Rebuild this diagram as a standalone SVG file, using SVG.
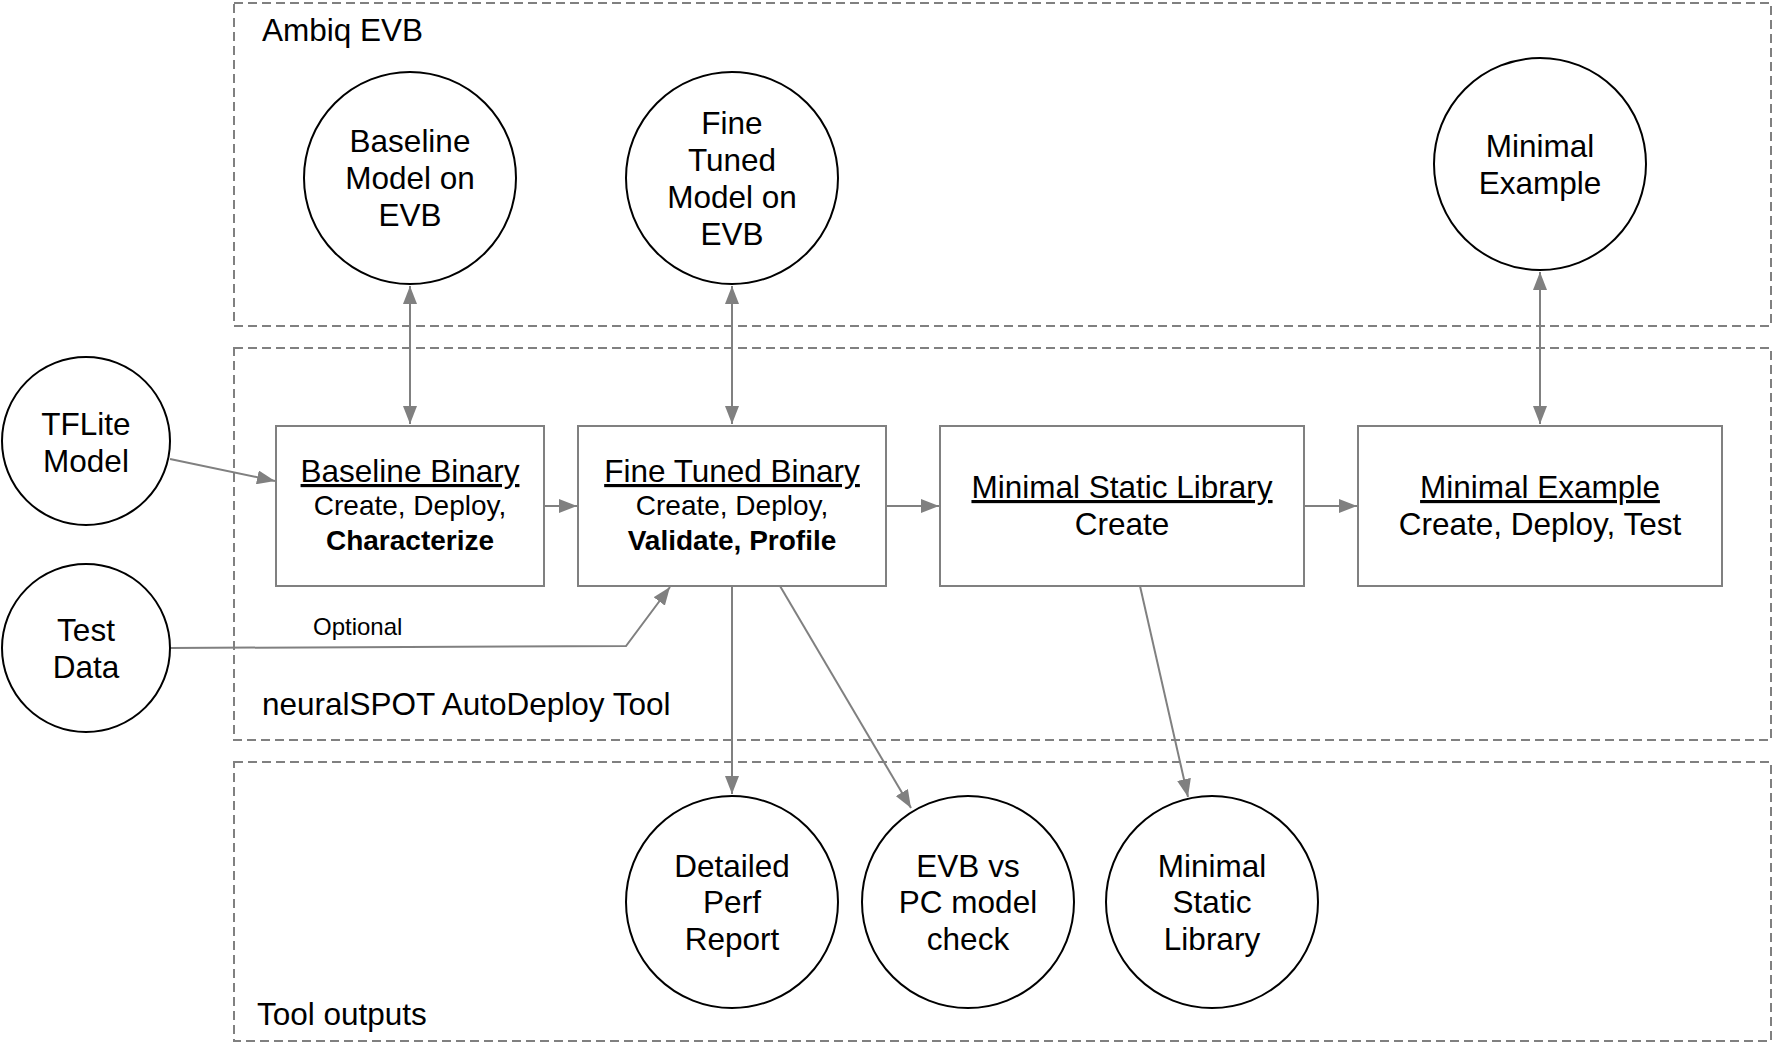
<svg xmlns="http://www.w3.org/2000/svg" width="1774" height="1044" viewBox="0 0 1774 1044">
<style>
  text { font-family: "Liberation Sans", Arial, Helvetica, sans-serif; fill: #000; }
  .big { font-size: 31.5px; }
  .mid { font-size: 28px; }
  .small { font-size: 24px; }
  .c { text-anchor: middle; }
  .u { text-decoration: underline; }
  .b { font-weight: bold; }
  .container { fill: none; stroke: #808080; stroke-width: 2; stroke-dasharray: 9 5; }
  .circle { fill: #fff; stroke: #000; stroke-width: 2; }
  .box { fill: #fff; stroke: #808080; stroke-width: 2; }
  .conn { fill: none; stroke: #808080; stroke-width: 2; }
  .arr { marker-end: url(#ah); }
  .both { marker-start: url(#ah); marker-end: url(#ah); }
</style>
<defs>
  <marker id="ah" viewBox="0 0 18 14" refX="18" refY="7" markerWidth="18" markerHeight="14" markerUnits="userSpaceOnUse" orient="auto-start-reverse">
    <path d="M0,0 L18,7 L0,14 z" fill="#808080"/>
  </marker>
</defs>
<rect width="1774" height="1044" fill="#fff"/>

<g id="container-ambiq">
  <rect class="container" x="234" y="3" width="1537" height="323"/>
  <text class="big" x="262" y="41">Ambiq EVB</text>
</g>
<g id="container-neuralspot">
  <rect class="container" x="234" y="348" width="1537" height="392"/>
  <text class="big" x="262" y="715">neuralSPOT AutoDeploy Tool</text>
</g>
<g id="container-outputs">
  <rect class="container" x="234" y="762" width="1537" height="279"/>
  <text class="big" x="257" y="1025">Tool outputs</text>
</g>

<g id="connectors">
  <line class="conn both" x1="410" y1="286" x2="410" y2="424"/>
  <line class="conn both" x1="732" y1="286" x2="732" y2="424"/>
  <line class="conn both" x1="1540" y1="272" x2="1540" y2="424"/>
  <line class="conn arr" x1="170" y1="459" x2="275" y2="481"/>
  <line class="conn arr" x1="544" y1="506" x2="577" y2="506"/>
  <line class="conn arr" x1="886" y1="506" x2="939" y2="506"/>
  <line class="conn arr" x1="1304" y1="506" x2="1357" y2="506"/>
  <path class="conn arr" d="M170,648 L626,646 L670,587"/>
  <text class="small" x="313" y="635">Optional</text>
  <line class="conn arr" x1="732" y1="586" x2="732" y2="794"/>
  <line class="conn arr" x1="780" y1="586" x2="911" y2="808"/>
  <line class="conn arr" x1="1140" y1="586" x2="1188" y2="797"/>
</g>

<g id="baseline-model-evb">
  <circle class="circle" cx="410" cy="178" r="106"/>
  <text class="big c" x="410" y="152">Baseline</text>
  <text class="big c" x="410" y="189">Model on</text>
  <text class="big c" x="410" y="226">EVB</text>
</g>
<g id="finetuned-model-evb">
  <circle class="circle" cx="732" cy="178" r="106"/>
  <text class="big c" x="732" y="134">Fine</text>
  <text class="big c" x="732" y="171">Tuned</text>
  <text class="big c" x="732" y="208">Model on</text>
  <text class="big c" x="732" y="245">EVB</text>
</g>
<g id="minimal-example-evb">
  <circle class="circle" cx="1540" cy="164" r="106"/>
  <text class="big c" x="1540" y="157">Minimal</text>
  <text class="big c" x="1540" y="194">Example</text>
</g>
<g id="tflite-model">
  <circle class="circle" cx="86" cy="441" r="84"/>
  <text class="big c" x="86" y="435">TFLite</text>
  <text class="big c" x="86" y="472">Model</text>
</g>
<g id="test-data">
  <circle class="circle" cx="86" cy="648" r="84"/>
  <text class="big c" x="86" y="641">Test</text>
  <text class="big c" x="86" y="678">Data</text>
</g>

<g id="baseline-binary">
  <rect class="box" x="276" y="426" width="268" height="160"/>
  <text class="big c u" x="410" y="482">Baseline Binary</text>
  <text class="mid c" x="410" y="515">Create, Deploy,</text>
  <text class="mid c b" x="410" y="550">Characterize</text>
</g>
<g id="finetuned-binary">
  <rect class="box" x="578" y="426" width="308" height="160"/>
  <text class="big c u" x="732" y="482">Fine Tuned Binary</text>
  <text class="mid c" x="732" y="515">Create, Deploy,</text>
  <text class="mid c b" x="732" y="550">Validate, Profile</text>
</g>
<g id="minimal-static-library-box">
  <rect class="box" x="940" y="426" width="364" height="160"/>
  <text class="big c u" x="1122" y="498">Minimal Static Library</text>
  <text class="big c" x="1122" y="535">Create</text>
</g>
<g id="minimal-example-box">
  <rect class="box" x="1358" y="426" width="364" height="160"/>
  <text class="big c u" x="1540" y="498">Minimal Example</text>
  <text class="big c" x="1540" y="535">Create, Deploy, Test</text>
</g>

<g id="detailed-perf-report">
  <circle class="circle" cx="732" cy="902" r="106"/>
  <text class="big c" x="732" y="877">Detailed</text>
  <text class="big c" x="732" y="913">Perf</text>
  <text class="big c" x="732" y="950">Report</text>
</g>
<g id="evb-vs-pc">
  <circle class="circle" cx="968" cy="902" r="106"/>
  <text class="big c" x="968" y="877">EVB vs</text>
  <text class="big c" x="968" y="913">PC model</text>
  <text class="big c" x="968" y="950">check</text>
</g>
<g id="minimal-static-library">
  <circle class="circle" cx="1212" cy="902" r="106"/>
  <text class="big c" x="1212" y="877">Minimal</text>
  <text class="big c" x="1212" y="913">Static</text>
  <text class="big c" x="1212" y="950">Library</text>
</g>
</svg>
